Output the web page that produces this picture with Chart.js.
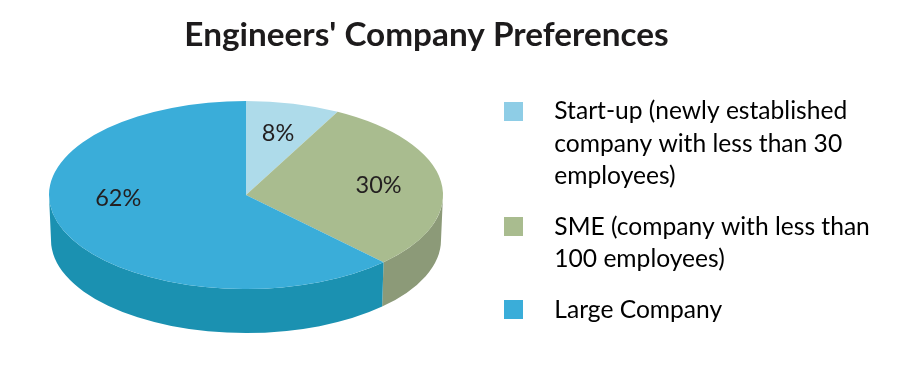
<!DOCTYPE html>
<html>
<head>
<meta charset="utf-8">
<style>
  html, body { margin: 0; padding: 0; background: #fff; }
  #wrap { width: 911px; height: 370px; }
</style>
<script src="https://cdn.jsdelivr.net/npm/chart.js@4/dist/chart.umd.js"></script>
</head>
<body>
<div id="wrap"><canvas id="chart-pie"></canvas></div>
<script>
const TITLE = "Engineers' Company Preferences";
const CATEGORIES = [
  ["Start-up (newly established", "company with less than 30", "employees)"],
  ["SME (company with less than", "100 employees)"],
  ["Large Company"],
];
// the printed labels round these
const VALUES = [7.7, 30, 62.3];
const TOP_COLORS = ["#aedbea", "#a9bc8f", "#3aadd9"];
const LEGEND_COLORS = ["#8ecde6", "#a9bc8f", "#3aadd9"];
const SIDE_COLORS = ["#8ab0bb", "#8c9a78", "#1b91b1"];

// pie is drawn flat by the library, these squash it into the tilted look
const CX = 246;
const CY = 195;
const RX = 197;
const RY = 94;
// bottom rim is a bit narrower, fake perspective
const BOTTOM_CY = 240;
const BOTTOM_RX = 195;
const BOTTOM_RY = 93;

const squash = (ctx, arc) => {
  const r = arc.outerRadius;
  ctx.translate(arc.x, arc.y);
  ctx.scale(RX / r, RY / r);
  ctx.translate(-arc.x, -arc.y);
};

// legend swatch as an image, so the gap to the text can be wider than the box
const swatch = (color) => {
  const box = document.createElement("canvas");
  box.width = 19;
  box.height = 19;
  const boxCtx = box.getContext("2d");
  boxCtx.fillStyle = color;
  boxCtx.fillRect(0, 0, 19, 19);
  return box;
};

const tilt = {
  id: "tilt",
  afterLayout(chart) {
    // the legend and pie do not sit where the default layout puts them
    const legend = chart.legend;
    const width = legend.right - legend.left;
    legend.left = 466;
    legend.right = legend.left + width;
    legend.top = 81;
    const area = chart.chartArea;
    area.left = CX - 150;
    area.right = CX + 150;
    area.top = CY - 150;
    area.bottom = CY + 150;
    area.width = 300;
    area.height = 300;
  },
  beforeDatasetDraw(chart) {
    const ctx = chart.ctx;
    const arcs = chart.getDatasetMeta(0).data;
    // side wall, only the front half of the rim shows
    arcs.forEach((arc, i) => {
      [0, Math.PI * 2].forEach((turn) => {
        const from = Math.max(arc.startAngle, turn);
        const to = Math.min(arc.endAngle, turn + Math.PI);
        if (from >= to) return;
        ctx.beginPath();
        ctx.ellipse(arc.x, arc.y, RX, RY, 0, from, to);
        ctx.ellipse(arc.x, BOTTOM_CY, BOTTOM_RX, BOTTOM_RY, 0, to, from, true);
        ctx.closePath();
        ctx.fillStyle = SIDE_COLORS[i];
        ctx.fill();
      });
    });
    ctx.save();
    squash(ctx, arcs[0]);
  },
  afterDatasetDraw(chart) {
    const ctx = chart.ctx;
    const arcs = chart.getDatasetMeta(0).data;
    ctx.restore();
    // percent labels on the squashed slices
    ctx.save();
    ctx.fillStyle = "#231f20";
    ctx.font = "23.5px Lato";
    ctx.textAlign = "center";
    ctx.textBaseline = "middle";
    arcs.forEach((arc, i) => {
      const mid = (arc.startAngle + arc.endAngle) / 2;
      const k = i === 2 ? 0.7 : 0.68;
      const dy = i === 2 ? -21 : 0;
      const x = arc.x + Math.cos(mid) * RX * k;
      const y = arc.y + Math.sin(mid) * RY * k + dy;
      ctx.fillText(Math.round(VALUES[i]) + "%", x, y);
    });
    ctx.restore();
  },
};

const DATA = {
  labels: CATEGORIES,
  datasets: [
    {
      data: VALUES,
      backgroundColor: TOP_COLORS,
      borderWidth: 0,
    },
  ],
};

const CONFIG = {
  type: "pie",
  data: DATA,
  plugins: [tilt],
  options: {
    responsive: true,
    maintainAspectRatio: false,
    animation: false,
    layout: {
      padding: { left: 0, right: 58, top: 0, bottom: 0 },
    },
    plugins: {
      tooltip: { enabled: false },
      title: {
        display: true,
        text: TITLE,
        color: "#1d1b1c",
        font: { family: "Lato", size: 33.3, weight: "bold" },
        padding: { top: 15, bottom: 20 },
      },
      legend: {
        position: "right",
        align: "start",
        labels: {
          color: "#231f20",
          usePointStyle: true,
          pointStyleWidth: 58,
          boxHeight: 19,
          padding: 18,
          font: { family: "Lato", size: 24.6, lineHeight: 1.32 },
          generateLabels: () =>
            CATEGORIES.map((text, i) => ({
              text,
              pointStyle: swatch(LEGEND_COLORS[i]),
              fillStyle: LEGEND_COLORS[i],
              strokeStyle: LEGEND_COLORS[i],
              lineWidth: 0,
              index: i,
            })),
        },
      },
    },
  },
};

new Chart(document.getElementById("chart-pie"), CONFIG);
</script>
</body>
</html>
